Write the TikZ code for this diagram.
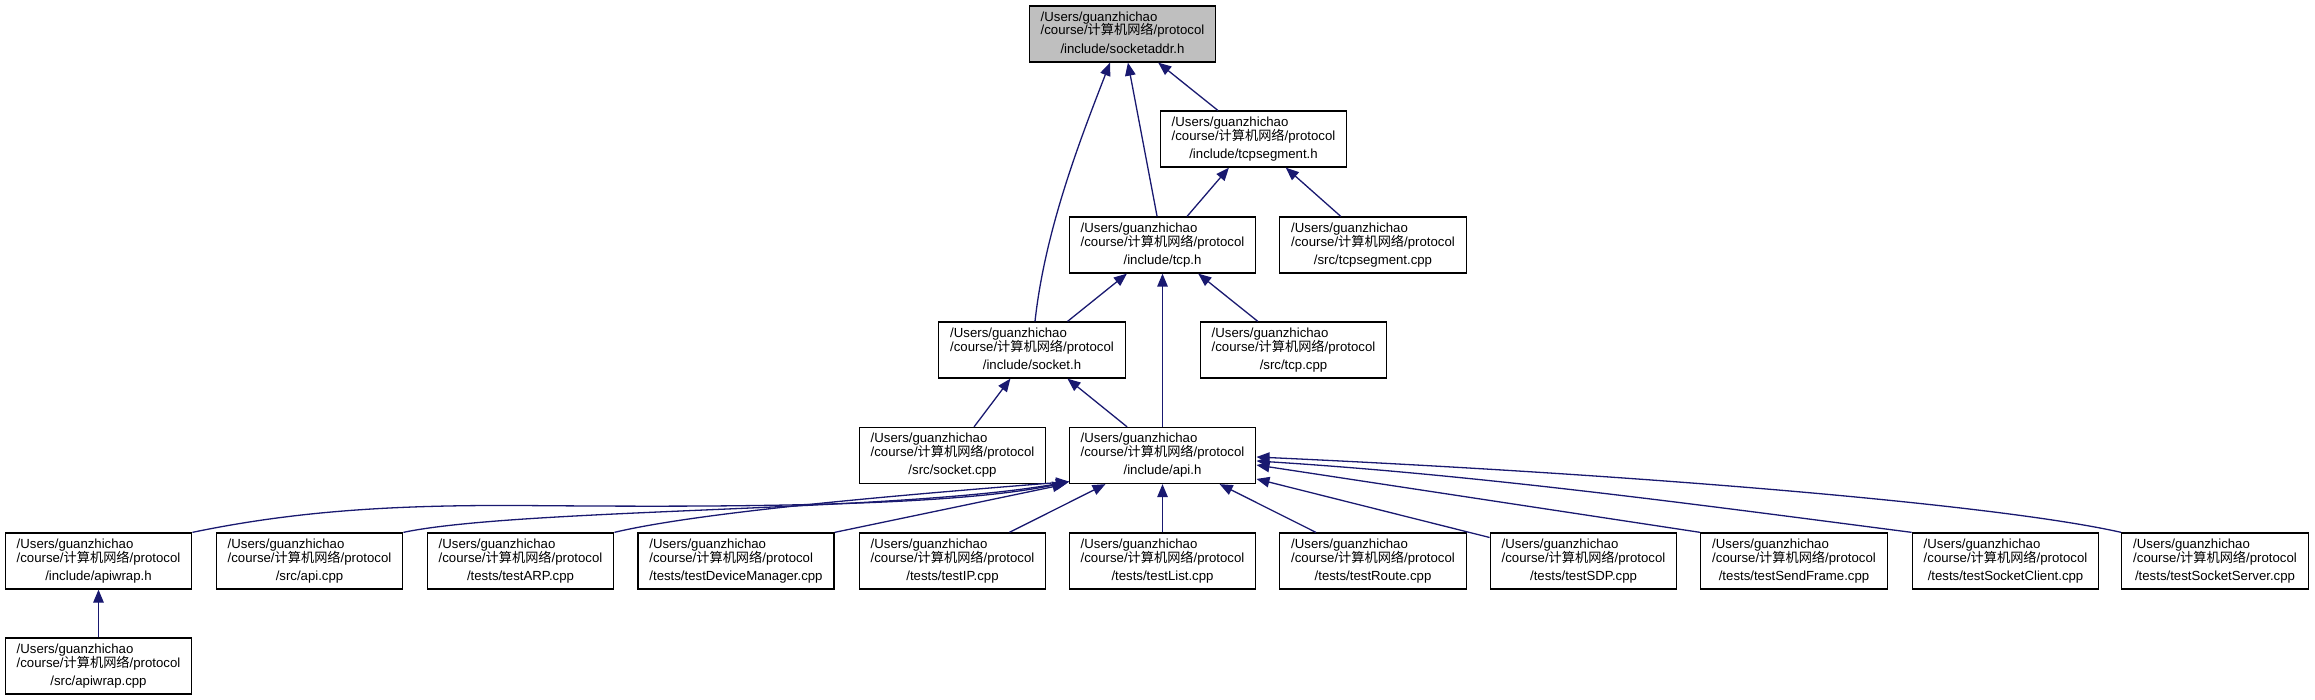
\documentclass[tikz,border=0pt]{standalone}
\usepackage{fontspec}
\setmainfont{Liberation Sans}
\newfontfamily\cjk{Noto Sans CJK SC}
\usetikzlibrary{arrows.meta}
\definecolor{edgeblue}{HTML}{191970}
\definecolor{rootfill}{HTML}{BFBFBF}
\newcommand\cnpart{{\cjk 计算机网络}}
\newcommand\flabel[1]{\raisebox{-1pt}{\begin{tabular}{@{}l@{}}/Users/guanzhichao\\[-2.3pt]/course/\cnpart/protocol\\[2.2pt]\multicolumn{1}{@{}c@{}}{#1}\end{tabular}}}
\tikzset{
  file/.style={draw=black, line width=1.3pt, fill=white, minimum height=56pt,
    inner xsep=11.5pt, inner ysep=0pt, font=\fontsize{13.2}{15.84}\selectfont},
  root/.style={file, fill=rootfill},
  edge/.style={draw=edgeblue, line width=1.3pt, -{Triangle[length=13pt,width=10.5pt]}}
}
\begin{document}
\begin{tikzpicture}[x=1pt,y=-1pt]
\useasboundingbox (0,0) rectangle (2315,700);
% nodes
\node[root] (sa) at (1122.5,34) {\flabel{/include/socketaddr.h}};
\node[file] (tcpseg) at (1253.5,139) {\flabel{/include/tcpsegment.h}};
\node[file] (tcph) at (1162.5,245) {\flabel{/include/tcp.h}};
\node[file] (tcpsegcpp) at (1373,245) {\flabel{/src/tcpsegment.cpp}};
\node[file] (socketh) at (1032,350) {\flabel{/include/socket.h}};
\node[file] (tcpcpp) at (1293.5,350) {\flabel{/src/tcp.cpp}};
\node[file] (socketcpp) at (952.5,455.5) {\flabel{/src/socket.cpp}};
\node[file] (apih) at (1162.5,455.5) {\flabel{/include/api.h}};
\node[file] (apiwrap) at (98.5,561) {\flabel{/include/apiwrap.h}};
\node[file] (apicpp) at (309.5,561) {\flabel{/src/api.cpp}};
\node[file] (testarp) at (520.5,561) {\flabel{/tests/testARP.cpp}};
\node[file] (testdm) at (736,561) {\flabel{/tests/testDeviceManager.cpp}};
\node[file] (testip) at (952.5,561) {\flabel{/tests/testIP.cpp}};
\node[file] (testlist) at (1162.5,561) {\flabel{/tests/testList.cpp}};
\node[file] (testroute) at (1373,561) {\flabel{/tests/testRoute.cpp}};
\node[file] (testsdp) at (1583.5,561) {\flabel{/tests/testSDP.cpp}};
\node[file] (testsf) at (1794,561) {\flabel{/tests/testSendFrame.cpp}};
\node[file] (testsc) at (2005.5,561) {\flabel{/tests/testSocketClient.cpp}};
\node[file] (testss) at (2215,561) {\flabel{/tests/testSocketServer.cpp}};
\node[file] (apiwrapcpp) at (98.5,666) {\flabel{/src/apiwrap.cpp}};
\coordinate (bundle) at ([xshift=0.5pt,yshift=2.5pt]apih.south west);
% edges
\draw[edge] ([xshift=3pt]socketh.north) .. controls (1045,230) and (1080,140) .. ([xshift=-12.5pt]sa.south);
\draw[edge] (tcph) -- (sa);
\draw[edge] (tcpseg) -- (sa);
\draw[edge] (tcph) -- (tcpseg);
\draw[edge] (tcpsegcpp) -- (tcpseg);
\draw[edge] (socketh) -- (tcph);
\draw[edge] (apih) -- (tcph);
\draw[edge] (tcpcpp) -- (tcph);
\draw[edge] (socketcpp) -- (socketh);
\draw[edge] (apih) -- (socketh);
\draw[edge] (apiwrap.north east) .. controls (300,510) and (400,505) .. (520,505.5) .. controls (700,507) and (950,508) .. (bundle);
\draw[edge] (apicpp.north east) .. controls (520,508) and (900,512) .. (bundle);
\draw[edge] (testarp.north east) .. controls (700,512) and (900,495) .. (bundle);
\draw[edge] (testdm.north east) -- ([xshift=-3pt]apih.south west);
\draw[edge] (testip) -- (apih);
\draw[edge] (testlist) -- (apih);
\draw[edge] (testroute) -- (apih);
\draw[edge] (testsdp) -- (apih);
\draw[edge] (testsf.north west) -- ([yshift=-9.5pt]apih.east);
\draw[edge] (testsc.north west) .. controls (1700,505) and (1480,475) .. ([yshift=-5.5pt]apih.east);
\draw[edge] (testss.north west) .. controls (2000,505) and (1650,475) .. ([yshift=-1.5pt]apih.east);
\draw[edge] (apiwrapcpp) -- (apiwrap);
\end{tikzpicture}
\end{document}
